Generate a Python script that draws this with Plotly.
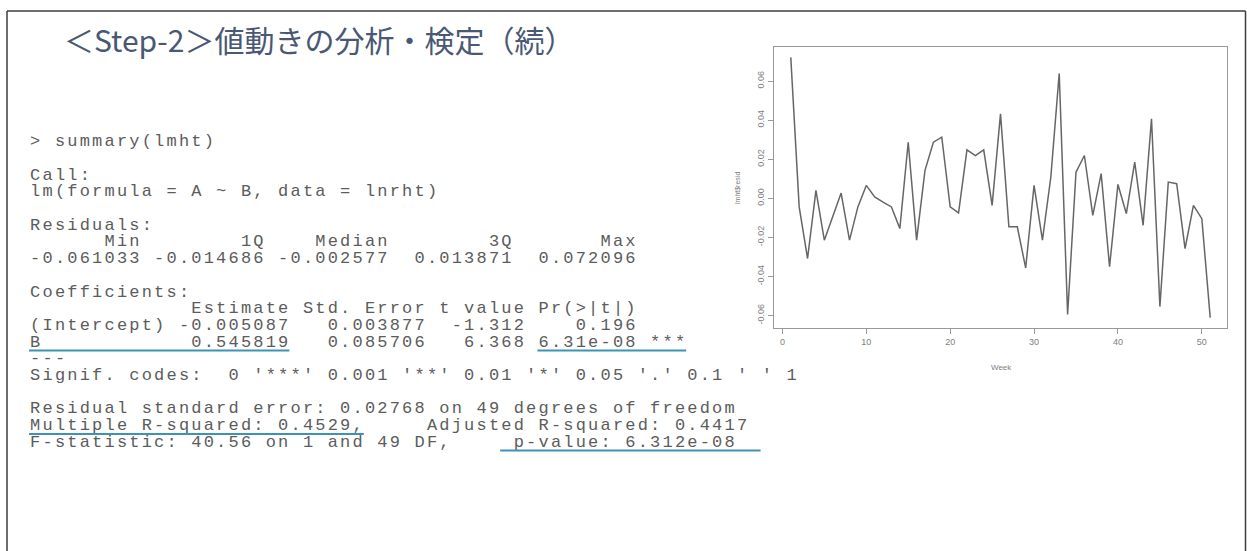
import plotly.graph_objects as go

W, H = 1247, 551

# Weekly residuals of the regression lm(A ~ B)
weeks = list(range(1, 52))
resid = [
    0.072096, -0.0044, -0.0308, 0.0041, -0.0214, -0.0095, 0.0027, -0.0214, -0.0044, 0.0066,
    0.0007, -0.0019, -0.0044, -0.0155, 0.0287, -0.0214, 0.0143, 0.0287, 0.0313, -0.0044,
    -0.0075, 0.0248, 0.0219, 0.0248, -0.0036, 0.0432, -0.0146, -0.0146, -0.0356, 0.0066,
    -0.0214, 0.0109, 0.0639, -0.0594, 0.0134, 0.0219, -0.0087, 0.0126, -0.0350, 0.0071,
    -0.0078, 0.0185, -0.0138, 0.0407, -0.0554, 0.0083, 0.0075, -0.0257, -0.0036, -0.0104,
    -0.061033,
]
x_ticks = [0, 10, 20, 30, 40, 50]
y_ticks = [-0.06, -0.04, -0.02, 0.00, 0.02, 0.04, 0.06]
y_tick_labels = ["-0.06", "-0.04", "-0.02", "0.00", "0.02", "0.04", "0.06"]

title_text = "＜Step-2＞値動きの分析・検定（続）"

# R console output of summary(lmht)
console_lines = [
    "> summary(lmht)",
    "",
    "Call:",
    "lm(formula = A ~ B, data = lnrht)",
    "",
    "Residuals:",
    "      Min        1Q    Median        3Q       Max",
    "-0.061033 -0.014686 -0.002577  0.013871  0.072096",
    "",
    "Coefficients:",
    "             Estimate Std. Error t value Pr(>|t|)",
    "(Intercept) -0.005087   0.003877  -1.312    0.196",
    "B            0.545819   0.085706   6.368 6.31e-08 ***",
    "---",
    "Signif. codes:  0 '***' 0.001 '**' 0.01 '*' 0.05 '.' 0.1 ' ' 1",
    "",
    "Residual standard error: 0.02768 on 49 degrees of freedom",
    "Multiple R-squared: 0.4529,     Adjusted R-squared: 0.4417",
    "F-statistic: 40.56 on 1 and 49 DF,     p-value: 6.312e-08",
]
# highlighted spans: (line index, first column, last column)
highlights = [(12, 0, 20), (12, 41, 52), (17, 0, 26), (18, 38, 58)]

MONO = "Liberation Mono"
mono_size = 17
col_w = 12.4      # console column pitch in px
text_x0 = 29
line_y0 = 142
line_step = 16.7


def px(x):
    return x / W


def py(y):
    return 1 - y / H


# y range padded like base R plot (4% each side)
lo, hi = min(resid), max(resid)
pad = 0.04 * (hi - lo)

fig = go.Figure()
fig.add_trace(go.Scatter(
    x=weeks, y=resid, mode="lines",
    line=dict(color="#666666", width=1.5),
    hoverinfo="skip", showlegend=False,
))

# console text laid out on a fixed character grid (overlay axes in pixel units)
cx, cy, ch = [], [], []
for i, line in enumerate(console_lines):
    for c, char in enumerate(line):
        if char != " ":
            cx.append(text_x0 + (c + 0.5) * col_w)
            cy.append(line_y0 + i * line_step)
            ch.append(char)
fig.add_trace(go.Scatter(
    x=cx, y=cy, text=ch, mode="text", textposition="middle center",
    textfont=dict(family=MONO, size=mono_size, color="#5c5c5c"),
    xaxis="x2", yaxis="y2", hoverinfo="skip", showlegend=False,
))

axis_common = dict(
    showline=True, linecolor="#999999", linewidth=1.2, mirror=True,
    ticks="outside", ticklen=5, tickcolor="#999999", tickwidth=1,
    showgrid=False, zeroline=False,
    tickfont=dict(family="Liberation Sans", size=9, color="#808080"),
)
hidden = dict(visible=False, showgrid=False, zeroline=False, fixedrange=True)

fig.update_layout(
    width=W, height=H,
    margin=dict(l=0, r=0, t=0, b=0),
    paper_bgcolor="white", plot_bgcolor="rgba(0,0,0,0)",
    xaxis=dict(
        domain=[px(774), px(1227)], range=[-1, 53],
        tickvals=x_ticks, **axis_common,
    ),
    yaxis=dict(
        domain=[py(328), py(47)], range=[lo - pad, hi + pad],
        tickvals=y_ticks, ticktext=y_tick_labels, tickangle=-90,
        **axis_common,
    ),
    xaxis2=dict(domain=[0, 1], range=[0, W], anchor="y2", **hidden),
    yaxis2=dict(domain=[0, 1], range=[H, 0], anchor="x2", **hidden),
)

annotations = [
    dict(text=title_text, x=px(62), y=py(39), xref="paper", yref="paper",
         xanchor="left", yanchor="middle", showarrow=False,
         font=dict(family="Noto Sans CJK JP", size=30, color="#4a5873")),
    dict(text="Week", x=px(1001), y=py(367), xref="paper", yref="paper",
         xanchor="center", yanchor="middle", showarrow=False,
         font=dict(family="Liberation Sans", size=8, color="#808080")),
    dict(text="lmht$resid", x=px(737), y=py(188), xref="paper", yref="paper",
         xanchor="center", yanchor="middle", showarrow=False, textangle=-90,
         font=dict(family="Liberation Sans", size=7, color="#808080")),
]
fig.update_layout(annotations=annotations)

shapes = []
for li, c0, c1 in highlights:
    yy = line_y0 + li * line_step + 8
    shapes.append(dict(
        type="line", xref="paper", yref="paper",
        x0=px(text_x0 + c0 * col_w), x1=px(text_x0 + (c1 + 1) * col_w),
        y0=py(yy), y1=py(yy),
        line=dict(color="#3d93b5", width=2),
    ))

# slide frame
frame = dict(color="#3c3c3c", width=1.5)
shapes += [
    dict(type="line", xref="paper", yref="paper", x0=px(7), x1=px(1245.5),
         y0=py(11), y1=py(11), line=frame),
    dict(type="line", xref="paper", yref="paper", x0=px(7), x1=px(7),
         y0=py(11), y1=0, line=frame),
    dict(type="line", xref="paper", yref="paper", x0=px(1245.5), x1=px(1245.5),
         y0=py(11), y1=0, line=frame),
]
fig.update_layout(shapes=shapes)

fig.write_html("out.html")
